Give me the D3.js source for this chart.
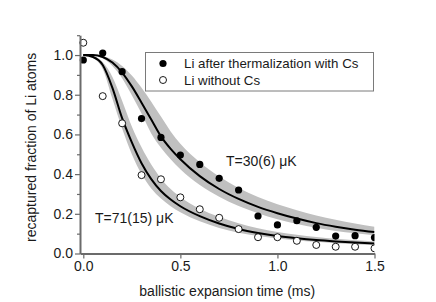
<!DOCTYPE html>
<html>
<head>
<meta charset="utf-8">
<script src="https://cdn.jsdelivr.net/npm/d3@7"></script>
<style>
  body { margin: 0; background: #fff; }
  text { font-family: Arial, "Liberation Sans", sans-serif; }
</style>
</head>
<body>
<div id="chart"></div>
<script>
const width = 436,
  height = 302;

// measured points
const times = [0, 0.1, 0.2, 0.3, 0.4, 0.5, 0.6, 0.7, 0.8, 0.9, 1.0, 1.1, 1.2, 1.3, 1.4, 1.5];
const withCs = [0.975, 1.01, 0.916, 0.68, 0.585, 0.496, 0.449, 0.379, 0.32, 0.189, 0.144, 0.165, 0.132, 0.088, 0.09, 0.08];
const withoutCs = [1.062, 0.793, 0.656, 0.395, 0.374, 0.283, 0.223, 0.18, 0.123, 0.082, 0.082, 0.064, 0.043, 0.034, 0.034, 0.026];

// fit curves + uncertainty bands
const fitT = [0, 0.05, 0.1, 0.15, 0.2, 0.25, 0.3, 0.35, 0.4, 0.45, 0.5, 0.6, 0.7, 0.8, 0.9, 1.0, 1.1, 1.2, 1.3, 1.4, 1.5];
const slowFit = [1.0, 1.0, 0.99, 0.962, 0.912, 0.842, 0.76, 0.675, 0.59, 0.527, 0.475, 0.39, 0.325, 0.275, 0.235, 0.203, 0.176, 0.153, 0.135, 0.12, 0.108];
const slowHi = [1.0, 1.0, 0.994, 0.977, 0.945, 0.897, 0.835, 0.765, 0.69, 0.615, 0.553, 0.46, 0.388, 0.33, 0.285, 0.248, 0.218, 0.192, 0.17, 0.151, 0.135];
const slowLo = [1.0, 0.998, 0.984, 0.945, 0.883, 0.797, 0.705, 0.605, 0.533, 0.475, 0.425, 0.345, 0.286, 0.239, 0.203, 0.173, 0.149, 0.13, 0.114, 0.102, 0.092];
const fastFit = [1.0, 0.99, 0.95, 0.835, 0.682, 0.56, 0.455, 0.375, 0.315, 0.272, 0.238, 0.188, 0.151, 0.123, 0.103, 0.088, 0.077, 0.068, 0.061, 0.055, 0.05];
const fastHi = [1.0, 0.995, 0.965, 0.89, 0.77, 0.64, 0.535, 0.448, 0.378, 0.325, 0.285, 0.226, 0.185, 0.152, 0.127, 0.108, 0.094, 0.083, 0.074, 0.067, 0.061];
const fastLo = [1.0, 0.985, 0.93, 0.78, 0.63, 0.5, 0.4, 0.327, 0.277, 0.238, 0.208, 0.162, 0.129, 0.105, 0.088, 0.076, 0.066, 0.059, 0.052, 0.047, 0.043];

const xMajor = [0, 0.5, 1.0, 1.5];
const yMajor = [0, 0.2, 0.4, 0.6, 0.8, 1.0];
const yMinor = [0.1, 0.3, 0.5, 0.7, 0.9, 1.1];

const legendLabels = ["Li after thermalization with Cs", "Li without Cs"];
const tempLabels = ["T=30(6) \u03bcK", "T=71(15) \u03bcK"];

const x = d3.scaleLinear().domain([-0.017, 1.5]).range([80, 374.5]);
const y = d3.scaleLinear().domain([0, 1.1]).range([253.5, 35.2]);

const svg = d3.select("#chart")
  .append("svg")
  .attr("width", width)
  .attr("height", height);

svg.append("clipPath").attr("id", "clip")
  .append("rect")
  .attr("x", 0).attr("y", 0)
  .attr("width", x(1.5)).attr("height", height);

const plot = svg.append("g").attr("clip-path", "url(#clip)");

const area = (hi, lo) => d3.area()
  .x((d, i) => x(fitT[i]))
  .y0((d, i) => y(lo[i]))
  .y1((d, i) => y(hi[i]))
  .curve(d3.curveMonotoneX);

const line = d3.line()
  .x((d, i) => x(fitT[i]))
  .y(d => y(d))
  .curve(d3.curveMonotoneX);

plot.append("path").datum(slowFit).attr("fill", "#c0c0c0").attr("d", area(slowHi, slowLo));
plot.append("path").datum(fastFit).attr("fill", "#c0c0c0").attr("d", area(fastHi, fastLo));

plot.selectAll(".fit")
  .data([slowFit, fastFit])
  .join("path")
  .attr("fill", "none")
  .attr("stroke", "#000")
  .attr("stroke-width", 2)
  .attr("d", line);

// axes
const axisColor = "#6b6b6b";
const gx = svg.append("g")
  .attr("transform", `translate(0,${y(0)})`)
  .call(d3.axisBottom(x).tickValues(xMajor).tickFormat(d3.format(".1f")).tickSize(5).tickSizeOuter(0).tickPadding(3));
const gy = svg.append("g")
  .attr("transform", `translate(${x.range()[0]},0)`)
  .call(d3.axisLeft(y).tickValues(yMajor).tickFormat(d3.format(".1f")).tickSize(5).tickSizeOuter(0).tickPadding(2));
svg.append("g")
  .attr("transform", `translate(${x.range()[0]},0)`)
  .call(d3.axisLeft(y).tickValues(yMinor).tickFormat("").tickSize(3).tickSizeOuter(0))
  .select(".domain").remove();

svg.selectAll(".domain").attr("stroke", axisColor).attr("stroke-width", 2);
svg.selectAll(".tick line").attr("stroke", axisColor).attr("stroke-width", 1.2);
svg.selectAll(".tick text").attr("font-size", 14).attr("fill", "#1a1a1a").attr("font-family", "Arial, 'Liberation Sans', sans-serif");

// points
plot.selectAll(".pf")
  .data(withCs)
  .join("circle")
  .attr("cx", (d, i) => x(times[i]))
  .attr("cy", d => y(d))
  .attr("r", 3.6)
  .attr("fill", "#000");

plot.selectAll(".po")
  .data(withoutCs)
  .join("circle")
  .attr("cx", (d, i) => x(times[i]))
  .attr("cy", d => y(d))
  .attr("r", 3.5)
  .attr("fill", "#fff")
  .attr("stroke", "#000")
  .attr("stroke-width", 0.9);

// legend
svg.append("rect")
  .attr("x", 145.5).attr("y", 52.5)
  .attr("width", 228).attr("height", 38.5)
  .attr("fill", "#fff")
  .attr("stroke", "#7a7a7a")
  .attr("stroke-width", 1);

svg.append("circle").attr("cx", 163).attr("cy", 63.5).attr("r", 3.6).attr("fill", "#000");
svg.append("circle").attr("cx", 163).attr("cy", 80).attr("r", 3.5)
  .attr("fill", "#fff").attr("stroke", "#000").attr("stroke-width", 0.9);

svg.selectAll(".leg")
  .data(legendLabels)
  .join("text")
  .attr("x", 184)
  .attr("y", (d, i) => 68 + i * 16.5)
  .attr("font-size", 13.3)
  .attr("fill", "#1a1a1a")
  .text(d => d);

// temperature annotations
svg.append("text").attr("x", 226).attr("y", 166).attr("font-size", 14).attr("fill", "#1a1a1a").text(tempLabels[0]);
svg.append("text").attr("x", 95).attr("y", 222.5).attr("font-size", 14).attr("fill", "#1a1a1a").text(tempLabels[1]);

// axis titles
svg.append("text")
  .attr("x", (x.range()[0] + x.range()[1]) / 2)
  .attr("y", 296)
  .attr("text-anchor", "middle")
  .attr("font-size", 14)
  .attr("fill", "#1a1a1a")
  .text("ballistic expansion time (ms)");

svg.append("text")
  .attr("transform", `translate(36,${(y(0) + y(1.1)) / 2 + 3}) rotate(-90)`)
  .attr("text-anchor", "middle")
  .attr("font-size", 14)
  .attr("fill", "#1a1a1a")
  .text("recaptured fraction of Li atoms");
</script>
</body>
</html>
